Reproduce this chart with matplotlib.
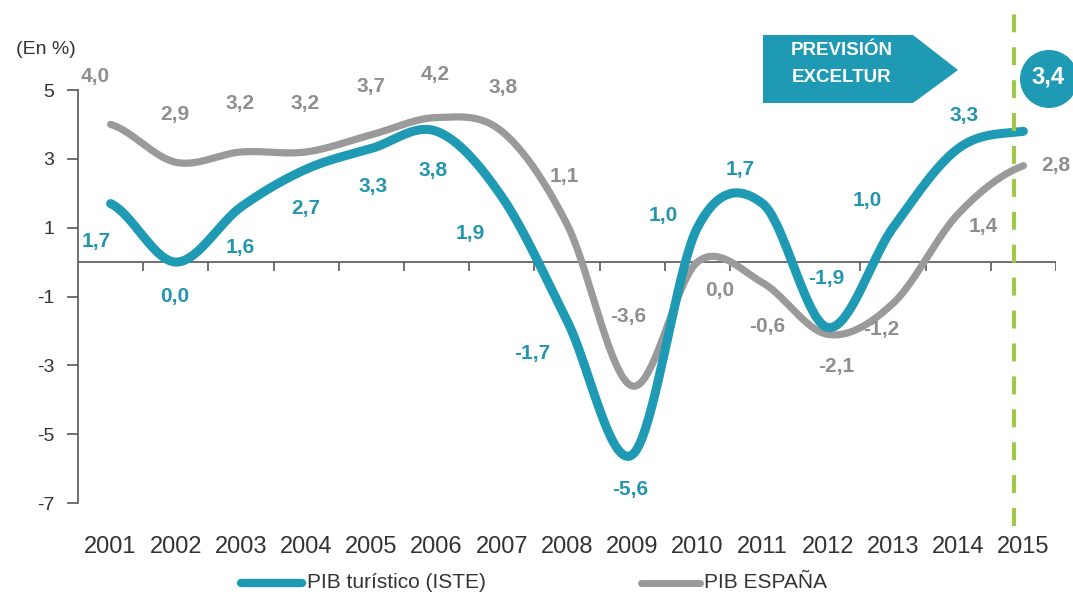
import numpy as np
import matplotlib
matplotlib.use("Agg")
import matplotlib.pyplot as plt
from matplotlib.patches import Polygon, Ellipse
from matplotlib.lines import Line2D

plt.rcParams['font.family'] = ['Liberation Sans', 'DejaVu Sans']

# ---------------- data ----------------
years = ["2001", "2002", "2003", "2004", "2005", "2006", "2007", "2008",
         "2009", "2010", "2011", "2012", "2013", "2014", "2015"]
# curve values as drawn
turistico_line = [1.7, 0.0, 1.6, 2.7, 3.3, 3.8, 1.9, -1.7, -5.6, 1.0, 1.7, -1.9, 1.0, 3.3, 3.8]
espana_line = [4.0, 2.9, 3.2, 3.2, 3.7, 4.2, 3.8, 1.1, -3.6, 0.0, -0.6, -2.1, -1.2, 1.4, 2.8]
# printed data labels
turistico_labels = ["1,7", "0,0", "1,6", "2,7", "3,3", "3,8", "1,9", "-1,7",
                    "-5,6", "1,0", "1,7", "-1,9", "1,0", "3,3", "3,4"]
espana_labels = ["4,0", "2,9", "3,2", "3,2", "3,7", "4,2", "3,8", "1,1",
                 "-3,6", "0,0", "-0,6", "-2,1", "-1,2", "1,4", "2,8"]
yticks = [5, 3, 1, -1, -3, -5, -7]
series_names = ["PIB turístico (ISTE)", "PIB ESPAÑA"]
forecast_text = "PREVISIÓN\nEXCELTUR"

# ---------------- styling / layout ----------------
W, H = 1073, 599
TEAL = '#1E9AB4'
TEAL_TXT = '#2395AC'
GRAY = '#9A9A9A'
GRAY_TXT = '#8E8E8E'
DARK = '#333333'
GREEN = '#A2C84A'
AXC = '#595959'

# label offsets in pixels from the curve point (dx right, dy down)
tur_off = [(-14, 38), (-1, 34), (-1, 40), (0, 39), (2, 38), (-4, 39), (-32, 37),
           (-35, 33), (-2, 35), (-34, -12), (-22, -34), (-2, -49), (-26, -27), (6, -33), None]
esp_off = [(-15, -48), (-1, -48), (-1, -48), (-1, -48), (0, -48), (-1, -43), (1, -44),
           (-3, -48), (-4, -69), (22, 28), (5, 44), (8, 32), (-12, 26), (25, 13), (32, 0)]


def fx(px):
    return px / W


def fy(py):
    return 1 - py / H


def smooth(vals, n=40):
    y = np.asarray(vals, dtype=float)
    x = np.arange(len(y), dtype=float)
    m = np.zeros_like(y)
    m[1:-1] = (y[2:] - y[:-2]) / 2
    m[0] = (y[1] - y[0]) / 2
    m[-1] = (y[-1] - y[-2]) / 2
    xs, ys = [], []
    for i in range(len(y) - 1):
        t = np.linspace(0, 1, n, endpoint=(i == len(y) - 2))
        h00 = 2 * t**3 - 3 * t**2 + 1
        h10 = t**3 - 2 * t**2 + t
        h01 = -2 * t**3 + 3 * t**2
        h11 = t**3 - t**2
        xs.append(x[i] + t)
        ys.append(h00 * y[i] + h10 * m[i] + h01 * y[i + 1] + h11 * m[i + 1])
    return np.concatenate(xs), np.concatenate(ys)


fig = plt.figure(figsize=(W / 100, H / 100), dpi=100)
ax = fig.add_axes([fx(78), fy(503), fx(1056) - fx(78), (503 - 90) / H])
ax.set_xlim(-0.5, len(years) - 0.5)
ax.set_ylim(-7, 5)

# lines
xe, ye = smooth(espana_line)
ax.plot(xe, ye, color=GRAY, lw=5.2, solid_capstyle='round', zorder=3)
xt, yt = smooth(turistico_line)
ax.plot(xt, yt, color=TEAL, lw=6.5, solid_capstyle='round', zorder=4)

# axes styling
for s in ['top', 'right', 'bottom']:
    ax.spines[s].set_visible(False)
ax.spines['left'].set_color(AXC)
ax.spines['left'].set_linewidth(1.2)
ax.set_yticks(yticks)
ax.set_yticklabels([str(v) for v in yticks])
ax.tick_params(axis='y', direction='out', length=8, width=1.2, color=AXC,
               labelsize=14, labelcolor=DARK, pad=9)
ax.set_xticks(range(len(years)))
ax.set_xticklabels(years)
ax.tick_params(axis='x', length=0, labelsize=17, labelcolor=DARK, pad=24)

# zero axis line with category boundary ticks
ax.axhline(0, color=AXC, lw=1.2, zorder=2)
bounds = np.arange(0.5, len(years) + 0.5, 1.0)
ax.vlines(bounds, -0.25, 0, color=AXC, lw=1.2, zorder=2)

# data labels
for i, (lab, v, off) in enumerate(zip(espana_labels, espana_line, esp_off)):
    ax.annotate(lab, (i, v), xytext=(off[0] * 0.72, -off[1] * 0.72),
                textcoords='offset points', ha='center', va='center',
                fontsize=15, fontweight='bold', color=GRAY_TXT, zorder=6,
                annotation_clip=False)
for i, (lab, v, off) in enumerate(zip(turistico_labels, turistico_line, tur_off)):
    if off is None:
        continue
    ax.annotate(lab, (i, v), xytext=(off[0] * 0.72, -off[1] * 0.72),
                textcoords='offset points', ha='center', va='center',
                fontsize=15, fontweight='bold', color=TEAL_TXT, zorder=6,
                annotation_clip=False)

# forecast dashed line
xdash = 13.85
ax.vlines(xdash, -7.67, 7.3, color=GREEN, lw=3, linestyles=(0, (4.3, 3.6)),
          clip_on=False, zorder=5)

# forecast arrow box
poly = Polygon([(fx(763), fy(35)), (fx(913), fy(35)), (fx(958), fy(70)),
                (fx(913), fy(103)), (fx(763), fy(103))], closed=True,
               transform=fig.transFigure, facecolor=TEAL, edgecolor='none')
fig.add_artist(poly)
fig.text(fx(842), fy(64), forecast_text, ha='center', va='center', color='white',
         fontsize=13.5, fontweight='bold', linespacing=1.75)

# 2015 circle label
circ = Ellipse((fx(1049), fy(79)), 2 * 29 / W, 2 * 29 / H, transform=fig.transFigure,
               facecolor=TEAL, edgecolor='none')
fig.add_artist(circ)
fig.text(fx(1048), fy(77), turistico_labels[-1], ha='center', va='center',
         color='white', fontsize=17, fontweight='bold')

# unit label
fig.text(fx(46), fy(50), "(En %)", ha='center', va='center', fontsize=14, color=DARK)

# legend
fig.add_artist(Line2D([fx(241), fx(302)], [fy(583), fy(583)], color=TEAL, lw=6,
                      solid_capstyle='round', transform=fig.transFigure))
fig.text(fx(307), fy(583), series_names[0], ha='left', va='center', fontsize=15, color=DARK)
fig.add_artist(Line2D([fx(641), fx(700)], [fy(583), fy(583)], color=GRAY, lw=5,
                      solid_capstyle='round', transform=fig.transFigure))
fig.text(fx(704), fy(583), series_names[1], ha='left', va='center', fontsize=15, color=DARK)

fig.savefig("out.png", dpi=100)
